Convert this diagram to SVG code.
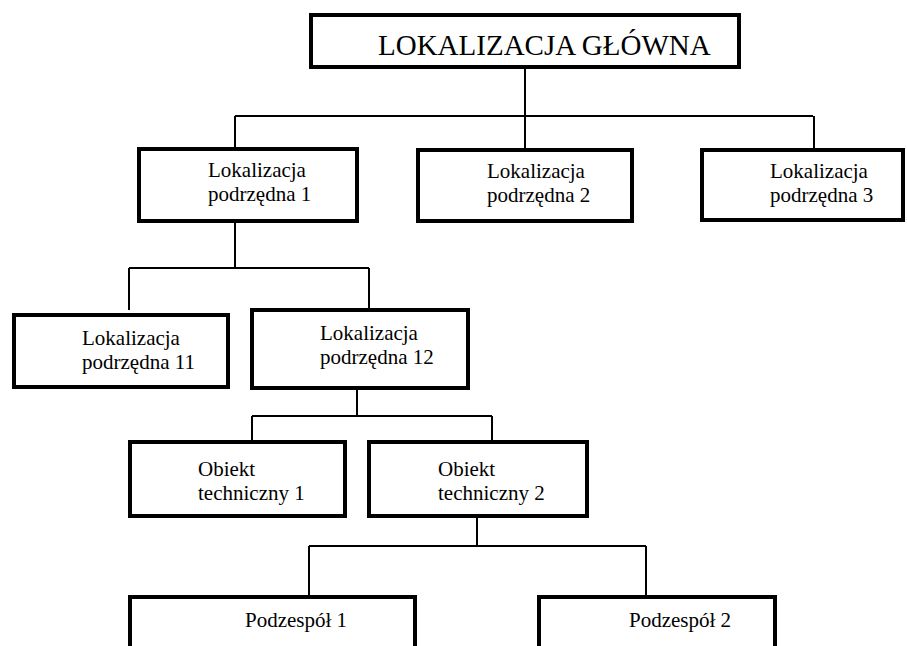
<svg xmlns="http://www.w3.org/2000/svg" width="907" height="646" viewBox="0 0 907 646">
<style>
.box{fill:#fff;stroke:#000;stroke-width:4}
.ln{stroke:#000;stroke-width:2;fill:none}
text{font-family:"Liberation Serif","Times New Roman",serif;font-size:21px;fill:#000}
.title{font-size:29px}
</style>
<rect width="907" height="646" fill="#fff"/>
<g id="connectors">
<path class="ln" d="M525 69V116M235 116H813M235 116V147M525 116V148M814 116V148"/>
<path class="ln" d="M235 223V268M129 268H369M129 268V310M369 268V308"/>
<path class="ln" d="M357 390V416M252 416H492M252 416V440M492 416V440"/>
<path class="ln" d="M477 518V546M309 546H646M309 546V595M646 546V595"/>
</g>
<g id="root"><rect class="box" x="311" y="15" width="428" height="52"/><text class="title" x="378" y="55">LOKALIZACJA GŁÓWNA</text></g>
<g id="l1"><rect class="box" x="139" y="149" width="218" height="72"/><text x="208" y="177">Lokalizacja</text><text x="208" y="201">podrzędna 1</text></g>
<g id="l2"><rect class="box" x="418" y="150" width="214" height="71"/><text x="487" y="178">Lokalizacja</text><text x="487" y="202">podrzędna 2</text></g>
<g id="l3"><rect class="box" x="702" y="150" width="201" height="70"/><text x="770" y="178">Lokalizacja</text><text x="770" y="202">podrzędna 3</text></g>
<g id="l11"><rect class="box" x="14" y="315" width="214" height="72"/><text x="82" y="345">Lokalizacja</text><text x="82" y="369">podrzędna 11</text></g>
<g id="l12"><rect class="box" x="252" y="310" width="216" height="78"/><text x="320" y="340">Lokalizacja</text><text x="320" y="364">podrzędna 12</text></g>
<g id="ot1"><rect class="box" x="130" y="442" width="215" height="74"/><text x="198" y="476">Obiekt</text><text x="198" y="500">techniczny 1</text></g>
<g id="ot2"><rect class="box" x="369" y="442" width="218" height="74"/><text x="438" y="476">Obiekt</text><text x="438" y="500">techniczny 2</text></g>
<g id="p1"><rect class="box" x="130" y="597" width="285" height="80"/><text x="245" y="627">Podzespół 1</text></g>
<g id="p2"><rect class="box" x="539" y="597" width="236" height="80"/><text x="629" y="627">Podzespół 2</text></g>
</svg>
